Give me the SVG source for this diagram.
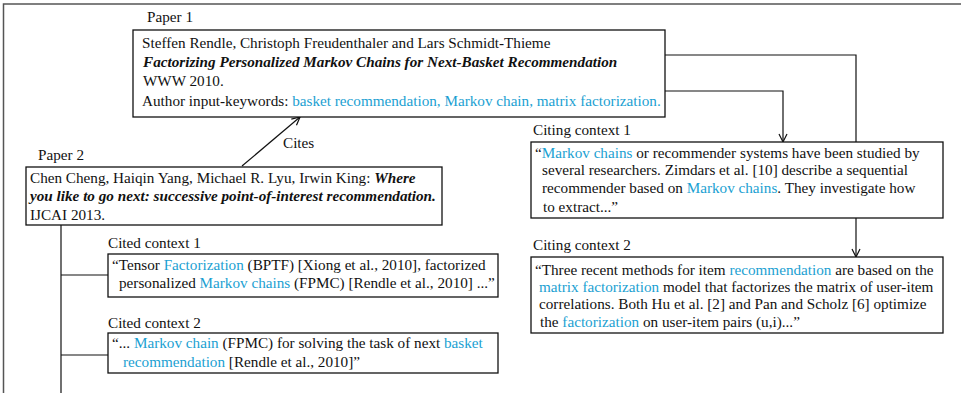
<svg xmlns="http://www.w3.org/2000/svg" width="961" height="393" viewBox="0 0 961 393">
<defs>
<style>
text{font-family:"Liberation Serif","Times New Roman",serif;font-size:15.2px;fill:#111}
.b{fill:#1b9fd2}
.t{font-weight:bold;font-style:italic}
.box{fill:#fff;stroke:#111;stroke-width:1.3}
.ln{fill:none;stroke:#111;stroke-width:1.2}
.frame{fill:none;stroke:#555;stroke-width:1.5}
</style>
<marker id="arr" markerUnits="userSpaceOnUse" markerWidth="12" markerHeight="12" refX="9" refY="5" orient="auto">
<path d="M1,1 L9,5 L1,9" fill="none" stroke="#111" stroke-width="1.2"/>
</marker>
</defs>
<rect width="961" height="393" fill="#fff"/>
<path class="frame" d="M3.5,393 V4 H961"/>
<g id="connectors">
<polyline class="ln" points="665,91 783,91 783,142" marker-end="url(#arr)"/>
<polyline class="ln" points="665,55 856,55 856,257" marker-end="url(#arr)"/>
<line class="ln" x1="242" y1="166" x2="300" y2="117" marker-end="url(#arr)"/>
<text x="283" y="148">Cites</text>
<line class="ln" x1="61" y1="225" x2="61" y2="393"/>
<line class="ln" x1="61" y1="275" x2="108" y2="275"/>
<line class="ln" x1="61" y1="355" x2="108" y2="355"/>
</g>
<g id="paper1">
<text x="147" y="22">Paper 1</text>
<rect class="box" x="133" y="30" width="532" height="87"/>
<text x="142" y="48">Steffen Rendle, Christoph Freudenthaler and Lars Schmidt-Thieme</text>
<text x="143" y="67" class="t">Factorizing Personalized Markov Chains for Next-Basket Recommendation</text>
<text x="143" y="86">WWW 2010.</text>
<text x="142" y="106">Author input-keywords: <tspan class="b">basket recommendation, Markov chain, matrix factorization.</tspan></text>
</g>
<g id="paper2">
<text x="38" y="160">Paper 2</text>
<rect class="box" x="26" y="167" width="416" height="58"/>
<text x="30" y="183">Chen Cheng, Haiqin Yang, Michael R. Lyu, Irwin King: <tspan class="t">Where</tspan></text>
<text x="30" y="201" class="t">you like to go next: successive point-of-interest recommendation.</text>
<text x="30" y="220">IJCAI 2013.</text>
</g>
<g id="cited1">
<text x="108" y="248">Cited context 1</text>
<rect class="box" x="108" y="254" width="390" height="43"/>
<text x="112" y="270">“Tensor <tspan class="b">Factorization</tspan> (BPTF) [Xiong et al., 2010], factorized</text>
<text x="119" y="288">personalized <tspan class="b">Markov chains</tspan> (FPMC) [Rendle et al., 2010] ...”</text>
</g>
<g id="cited2">
<text x="108" y="328">Cited context 2</text>
<rect class="box" x="108" y="333" width="390" height="40"/>
<text x="112" y="348">“... <tspan class="b">Markov chain</tspan> (FPMC) for solving the task of next <tspan class="b">basket</tspan></text>
<text x="123" y="367"><tspan class="b">recommendation</tspan> [Rendle et al., 2010]”</text>
</g>
<g id="citing1">
<text x="533" y="135">Citing context 1</text>
<rect class="box" x="531" y="142" width="412" height="76"/>
<text x="535" y="158">“<tspan class="b">Markov chains</tspan> or recommender systems have been studied by</text>
<text x="542" y="175">several researchers. Zimdars et al. [10] describe a sequential</text>
<text x="542" y="193">recommender based on <tspan class="b">Markov chains</tspan>. They investigate how</text>
<text x="543" y="212">to extract...”</text>
</g>
<g id="citing2">
<text x="533" y="250">Citing context 2</text>
<rect class="box" x="531" y="257" width="412" height="76"/>
<text x="535" y="275">“Three recent methods for item <tspan class="b">recommendation</tspan> are based on the</text>
<text x="539" y="292"><tspan class="b">matrix factorization</tspan> model that factorizes the matrix of user-item</text>
<text x="539" y="309">correlations. Both Hu et al. [2] and Pan and Scholz [6] optimize</text>
<text x="540" y="327">the <tspan class="b">factorization</tspan> on user-item pairs (u,i)...”</text>
</g>
</svg>
